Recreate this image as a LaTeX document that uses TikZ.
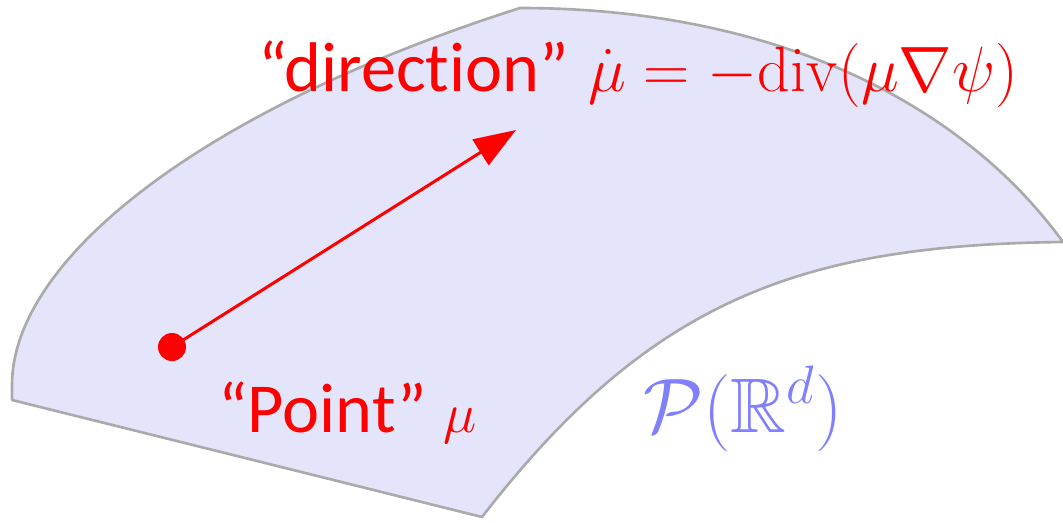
\RequirePackage{fix-cm}
\documentclass[tikz,border=0pt]{standalone}
\usepackage{amsmath, amssymb}
\usepackage[no-math]{fontspec}
\setmainfont{Carlito}[Ligatures=NoCommon]
\definecolor{sheetfill}{RGB}{228,228,250}
\definecolor{sheetedge}{RGB}{170,170,170}
\definecolor{labelblue}{RGB}{128,128,255}
\usetikzlibrary{arrows.meta, positioning}
\newcommand{\mathsz}[1]{\fontsize{#1}{#1}\selectfont}

\begin{document}
\begin{tikzpicture}[
  x=0.02cm, y=-0.02cm,
  lbl/.style={inner sep=0pt, font=\fontsize{40}{46}\selectfont},
  arrow/.style={-{Triangle[length=0.84cm, width=0.6cm]}, line width=1.7pt, red}
]
\useasboundingbox (0,0) rectangle (1063,522);
% the curved sheet
\draw[fill=sheetfill, draw=sheetedge, line width=1.5pt, line join=round]
  (520,8) .. controls (770,8) and (960,100) .. (1063,242)
  .. controls (800,245) and (650,300) .. (482,517)
  -- (12,400) -- (12,385)
  .. controls (12,260) and (200,110) .. (520,8) -- cycle;
% point and tangent direction
\node[circle, fill=red, inner sep=0pt, minimum size=0.56cm] (pt) at (172,347) {};
\coordinate (tip) at (516,130);
\draw[arrow] (pt.center) -- (tip);
\node[lbl, red, anchor=base west] (dir) at (258,91)
  {“direction”\hspace{2pt} {\mathsz{36.5}$\dot\mu=-\mathrm{div}(\mu\nabla\psi)$}};
\node[lbl, red, anchor=base west] (ptlbl) at (218,432) {“Point” {\mathsz{32}$\mu$}};
\node[lbl, labelblue, anchor=base west] (space) at (643,432) {\mathsz{44}$\mathcal{P}(\mathbb{R}^d)$};
\end{tikzpicture}
\end{document}
